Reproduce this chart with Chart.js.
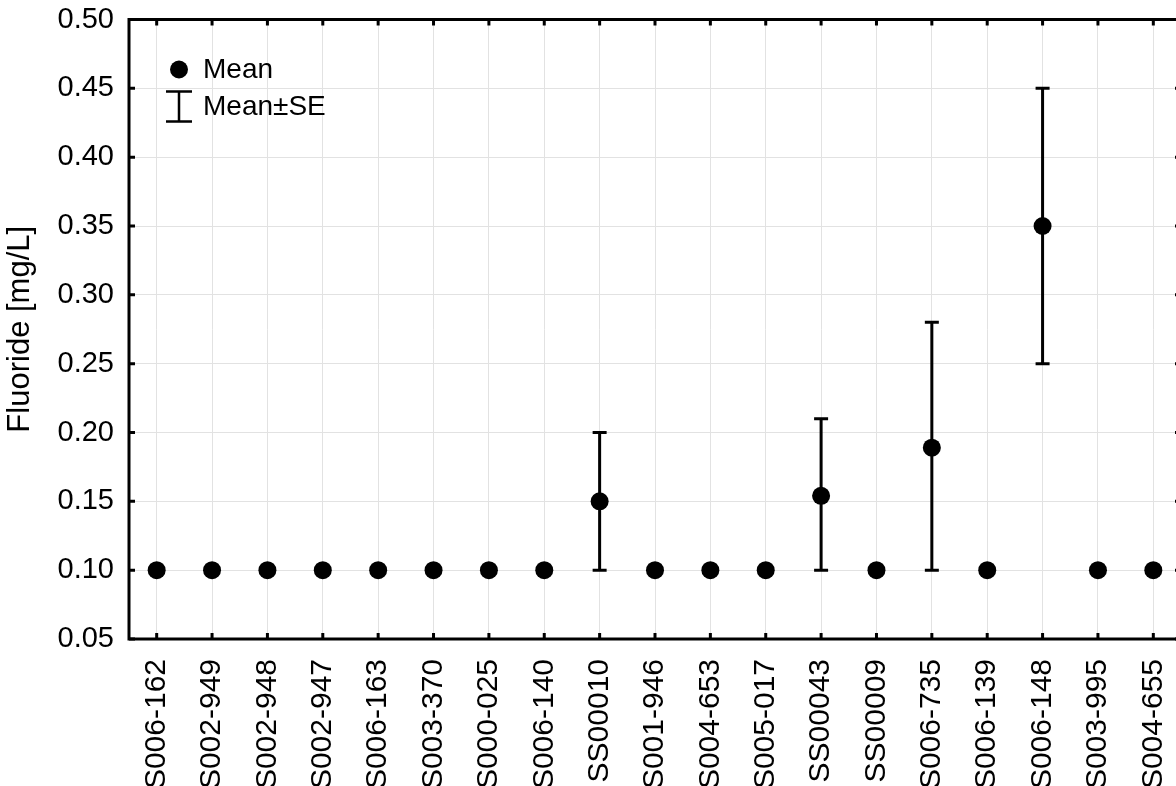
<!DOCTYPE html>
<html>
<head>
<meta charset="utf-8">
<script src="https://cdn.jsdelivr.net/npm/chart.js@4.4.0/dist/chart.umd.min.js"></script>
<style>
  html, body { margin: 0; padding: 0; background: #fff; overflow: hidden; }
  #wrap { width: 1190px; height: 786px; }
</style>
</head>
<body>
<div id="wrap"><canvas id="chart" width="1190" height="786"></canvas></div>
<script>
// sample sites along the x axis
const sites = ["S006-162", "S002-949", "S002-948", "S002-947", "S006-163", "S003-370",
    "S000-025", "S006-140", "SS00010", "S001-946", "S004-653", "S005-017",
    "SS00043", "SS00009", "S006-735", "S006-139", "S006-148", "S003-995", "S004-655"];

// mean fluoride per site
const meanValues = [0.10, 0.10, 0.10, 0.10, 0.10, 0.10, 0.10, 0.10, 0.150, 0.10, 0.10, 0.10,
    0.154, 0.10, 0.189, 0.10, 0.35, 0.10, 0.10];

// mean - SE / mean + SE (null = no spread)
const seLower = [null, null, null, null, null, null, null, null, 0.10, null, null, null,
    0.10, null, 0.10, null, 0.25, null, null];
const seUpper = [null, null, null, null, null, null, null, null, 0.20, null, null, null,
    0.21, null, 0.28, null, 0.45, null, null];

const legendLabels = ["Mean", "Mean\u00b1SE"];

const FONT = "'Liberation Sans', Arial, sans-serif";

// error bars, drawn under the points
const errorBars = {
    id: "errorBars",
    beforeDatasetsDraw(chart) {
        const { ctx, scales: { x, y } } = chart;
        ctx.save();
        ctx.strokeStyle = "#000";
        ctx.lineWidth = 3;
        sites.forEach((s, i) => {
            if (seLower[i] == null) return;
            const px = x.getPixelForValue(i);
            const y1 = y.getPixelForValue(seLower[i]);
            const y2 = y.getPixelForValue(seUpper[i]);
            ctx.beginPath();
            ctx.moveTo(px, y1); ctx.lineTo(px, y2);
            ctx.moveTo(px - 7, y1); ctx.lineTo(px + 7, y1);
            ctx.moveTo(px - 7, y2); ctx.lineTo(px + 7, y2);
            ctx.stroke();
        });
        ctx.restore();
    }
};

// black frame with inward ticks on all four sides
const frame = {
    id: "frame",
    afterDraw(chart) {
        const { ctx, chartArea: a, scales: { x, y } } = chart;
        const t = 6;
        ctx.save();
        ctx.strokeStyle = "#000";
        ctx.lineWidth = 3;
        ctx.beginPath();
        x.ticks.forEach((tk, i) => {
            const px = x.getPixelForTick(i);
            ctx.moveTo(px, a.top); ctx.lineTo(px, a.top + t);
            ctx.moveTo(px, a.bottom); ctx.lineTo(px, a.bottom - t);
        });
        y.ticks.forEach((tk, i) => {
            const py = y.getPixelForTick(i);
            ctx.moveTo(a.left, py); ctx.lineTo(a.left + t, py);
            ctx.moveTo(a.right, py); ctx.lineTo(a.right - t, py);
        });
        ctx.stroke();
        ctx.strokeRect(a.left, a.top, a.right - a.left, a.bottom - a.top);
        ctx.restore();
    }
};

// legend box in the upper left corner of the plot
const legendBox = {
    id: "legendBox",
    afterDraw(chart) {
        const { ctx, chartArea: a } = chart;
        const cx = a.left + 50;
        ctx.save();
        ctx.fillStyle = "#000";
        ctx.strokeStyle = "#000";
        ctx.beginPath();
        ctx.arc(cx, a.top + 50, 9, 0, Math.PI * 2);
        ctx.fill();
        ctx.lineWidth = 2.5;
        ctx.beginPath();
        ctx.moveTo(cx - 13, a.top + 72); ctx.lineTo(cx + 13, a.top + 72);
        ctx.moveTo(cx, a.top + 72); ctx.lineTo(cx, a.top + 102);
        ctx.moveTo(cx - 13, a.top + 102); ctx.lineTo(cx + 13, a.top + 102);
        ctx.stroke();
        ctx.font = "28px " + FONT;
        ctx.textBaseline = "middle";
        ctx.fillText(legendLabels[0], cx + 24, a.top + 51);
        ctx.fillText(legendLabels[1], cx + 24, a.top + 88);
        ctx.restore();
    }
};

new Chart(document.getElementById("chart"), {
    type: "line",
    data: {
        labels: sites,
        datasets: [{
            label: legendLabels[0],
            data: meanValues,
            showLine: false,
            pointRadius: 9,
            pointHoverRadius: 9,
            pointBackgroundColor: "#000",
            pointBorderWidth: 0
        }]
    },
    options: {
        responsive: false,
        animation: false,
        events: [],
        layout: { padding: { top: 19.5, right: 8, left: 0, bottom: 0 } },
        plugins: { legend: { display: false }, tooltip: { enabled: false } },
        scales: {
            x: {
                offset: true,
                grid: { offset: false, color: "#e2e2e2", lineWidth: 1, drawTicks: false },
                border: { display: false },
                ticks: {
                    color: "#000", font: { family: FONT, size: 30 },
                    minRotation: 90, maxRotation: 90, padding: 20, autoSkip: false
                },
                afterFit: (s) => { s.height = 147; s.paddingLeft = 0; s.paddingRight = 0; }
            },
            y: {
                min: 0.05,
                max: 0.5,
                grid: { color: "#e2e2e2", lineWidth: 1, drawTicks: false },
                border: { display: false },
                ticks: {
                    stepSize: 0.05, color: "#000", padding: 15,
                    font: { family: FONT, size: 29 },
                    callback: (v) => v.toFixed(2)
                },
                title: {
                    display: true, text: "Fluoride [mg/L]", color: "#000",
                    font: { family: FONT, size: 31 }, padding: { top: 2, bottom: 0 }
                },
                afterFit: (s) => { s.width = 129; s.paddingTop = 0; s.paddingBottom = 0; }
            }
        }
    },
    plugins: [errorBars, frame, legendBox]
});
</script>
</body>
</html>
